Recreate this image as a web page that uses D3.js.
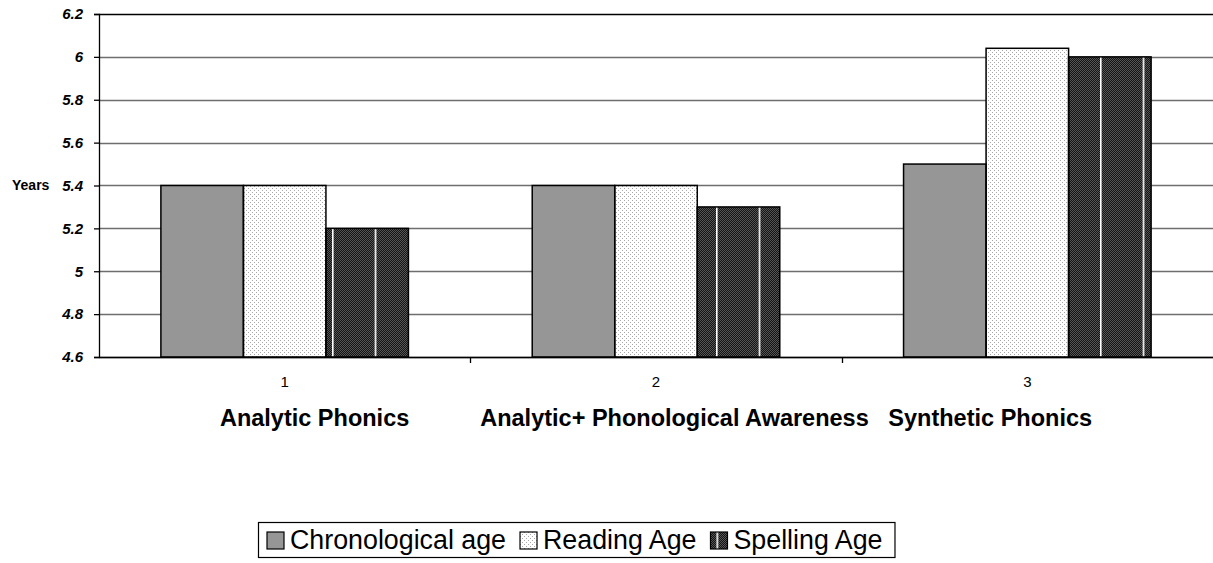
<!DOCTYPE html>
<html>
<head>
<meta charset="utf-8">
<script src="https://cdn.jsdelivr.net/npm/d3@7"></script>
<style>
  body { margin: 0; background: #fff; }
  svg { display: block; font-family: Arial, "Liberation Sans", sans-serif; }
</style>
</head>
<body>
<svg id="chart" width="1213" height="563"></svg>
<script>
// data
const categories = ['1', '2', '3'];
const groupNames = ['Analytic Phonics', 'Analytic+ Phonological Awareness', 'Synthetic Phonics'];
const seriesNames = ['Chronological age', 'Reading Age', 'Spelling Age'];
const chronological = [5.4, 5.4, 5.5];
const reading = [5.4, 5.4, 6.04];
const spelling = [5.2, 5.3, 6.0];
const yDomain = [4.6, 6.2];

const svg = d3.select('#chart');
const width = +svg.attr('width');

const margin = { left: 99, top: 14, right: 0 };
const plotBottom = 357;

// patterns for the fills
const defs = svg.append('defs');

const dots = defs.append('pattern')
  .attr('id', 'dots')
  .attr('patternUnits', 'userSpaceOnUse')
  .attr('width', 4).attr('height', 4);
dots.append('rect').attr('width', 4).attr('height', 4).attr('fill', '#fff');
dots.append('rect').attr('x', 0).attr('y', 0).attr('width', 1).attr('height', 1).attr('fill', '#a8a8a8');
dots.append('rect').attr('x', 2).attr('y', 2).attr('width', 1).attr('height', 1).attr('fill', '#a8a8a8');

const dark = defs.append('pattern')
  .attr('id', 'dark')
  .attr('patternUnits', 'userSpaceOnUse')
  .attr('width', 2).attr('height', 2);
dark.append('rect').attr('width', 2).attr('height', 2).attr('fill', '#141414');
dark.append('rect').attr('x', 0).attr('y', 0).attr('width', 1).attr('height', 1).attr('fill', '#555');
dark.append('rect').attr('x', 1).attr('y', 1).attr('width', 1).attr('height', 1).attr('fill', '#555');

// white streaks in the dark fill
const stripePeriod = 128 / 3;
const makeStripes = (id, offset) => {
  const p = defs.append('pattern')
    .attr('id', id)
    .attr('patternUnits', 'userSpaceOnUse')
    .attr('x', offset)
    .attr('width', stripePeriod).attr('height', 4);
  p.append('rect').attr('x', 0).attr('width', 1.6).attr('height', 4).attr('fill', '#fff');
};
makeStripes('stripes', 332 % stripePeriod);

const fills = ['#969696', 'url(#dots)', 'url(#dark)'];

// scales
const x0 = d3.scaleBand()
  .domain(categories)
  .range([margin.left, width - margin.right]);

const bw = x0.bandwidth();
const x1 = d3.scaleBand()
  .domain(seriesNames)
  .range([bw / 6, bw * 5 / 6]);

const y = d3.scaleLinear()
  .domain(yDomain)
  .range([plotBottom, margin.top]);

const yTicks = d3.range(0, 9).map(i => +(yDomain[0] + i * 0.2).toFixed(1));

// gridlines
svg.append('g')
  .selectAll('line')
  .data(yTicks)
  .join('line')
    .attr('x1', margin.left)
    .attr('x2', width - margin.right)
    .attr('y1', d => Math.round(y(d)) + 0.5)
    .attr('y2', d => Math.round(y(d)) + 0.5)
    .attr('stroke', d => d === yDomain[1] ? '#000' : '#6e6e6e')
    .attr('stroke-width', 1.3);

// bars
const rows = categories.map((c, i) => ({
  cat: c,
  values: [chronological[i], reading[i], spelling[i]]
}));

const barData = rows.flatMap(r => r.values.map((v, j) => ({
  cat: r.cat, series: seriesNames[j], value: v, j
})));

const bars = svg.append('g');

bars.selectAll('.bar')
  .data(barData)
  .join('rect')
    .attr('class', 'bar')
    .attr('x', d => x0(d.cat) + x1(d.series))
    .attr('y', d => y(d.value))
    .attr('width', x1.bandwidth())
    .attr('height', d => plotBottom - y(d.value))
    .attr('fill', d => fills[d.j]);

// white streaks over the spelling bars
bars.selectAll('.streak')
  .data(barData.filter(d => d.j === 2))
  .join('rect')
    .attr('class', 'streak')
    .attr('x', d => x0(d.cat) + x1(d.series))
    .attr('y', d => y(d.value))
    .attr('width', x1.bandwidth())
    .attr('height', d => plotBottom - y(d.value))
    .attr('fill', 'url(#stripes)');

bars.selectAll('.outline')
  .data(barData)
  .join('rect')
    .attr('class', 'outline')
    .attr('x', d => x0(d.cat) + x1(d.series))
    .attr('y', d => y(d.value))
    .attr('width', x1.bandwidth())
    .attr('height', d => plotBottom - y(d.value))
    .attr('fill', 'none')
    .attr('stroke', '#000')
    .attr('stroke-width', 1.5);

// y axis
const yAxis = d3.axisLeft(y)
  .tickValues(yTicks)
  .tickSize(5)
  .tickPadding(11)
  .tickFormat(d3.format('.1~f'));

svg.append('g')
  .attr('transform', `translate(${margin.left},0)`)
  .call(yAxis)
  .call(g => g.select('.domain').attr('stroke', '#000').attr('stroke-width', 1.3))
  .call(g => g.selectAll('.tick line').attr('stroke', '#000').attr('stroke-width', 1.3))
  .call(g => g.selectAll('.tick text')
    .attr('font-family', 'Arial, "Liberation Sans", sans-serif')
    .attr('font-size', 15)
    .attr('font-weight', 'bold')
    .attr('font-style', 'italic')
    .attr('fill', '#000'));

// y axis title
svg.append('text')
  .attr('x', 12)
  .attr('y', y(5.4))
  .attr('dy', '0.35em')
  .attr('font-size', 14)
  .attr('font-weight', 'bold')
  .text('Years');

// x axis
const xAxis = d3.axisBottom(x0)
  .tickSize(0)
  .tickPadding(19);

svg.append('g')
  .attr('transform', `translate(0,${plotBottom})`)
  .call(xAxis)
  .call(g => g.select('.domain').attr('stroke', '#000').attr('stroke-width', 1.3))
  .call(g => g.selectAll('.tick text')
    .attr('font-family', 'Arial, "Liberation Sans", sans-serif')
    .attr('font-size', 15)
    .attr('fill', '#000'));

// separator ticks between categories
svg.append('g')
  .selectAll('line')
  .data(categories.slice(1))
  .join('line')
    .attr('x1', d => Math.round(x0(d)) + 0.5)
    .attr('x2', d => Math.round(x0(d)) + 0.5)
    .attr('y1', plotBottom)
    .attr('y2', plotBottom + 6)
    .attr('stroke', '#000')
    .attr('stroke-width', 1.3);

// x axis title, spaced out like the original
svg.append('text')
  .attr('x', margin.left + (width - margin.left - margin.right) / 2)
  .attr('y', 426)
  .attr('text-anchor', 'middle')
  .attr('font-size', 23.5)
  .attr('font-weight', 'bold')
  .style('white-space', 'pre')
  .text(groupNames[0] + ' '.repeat(11) + groupNames[1] + ' '.repeat(3) + groupNames[2]);

// legend
const legend = svg.append('g');
const legendX = 258, legendY = 522, legendH = 35;
const sw = 17;
let cursor = legendX + 9;
seriesNames.forEach((name, i) => {
  const g = legend.append('g');
  const sy = legendY + (legendH - sw) / 2 + 1;
  g.append('rect')
    .attr('x', cursor)
    .attr('y', sy)
    .attr('width', sw).attr('height', sw)
    .attr('fill', fills[i]);
  if (i === 2) {
    makeStripes('stripes-legend', cursor + 6);
    g.append('rect')
      .attr('x', cursor)
      .attr('y', sy)
      .attr('width', sw).attr('height', sw)
      .attr('fill', 'url(#stripes-legend)');
  }
  g.append('rect')
    .attr('x', cursor)
    .attr('y', sy)
    .attr('width', sw).attr('height', sw)
    .attr('fill', 'none')
    .attr('stroke', '#000')
    .attr('stroke-width', 1.2);
  const t = g.append('text')
    .attr('x', cursor + sw + 6)
    .attr('y', legendY + 27)
    .attr('font-size', 26.8)
    .text(name);
  cursor += sw + 6 + t.node().getComputedTextLength() + (i < 2 ? 14 : 12);
});

legend.insert('rect', ':first-child')
  .attr('x', legendX + 0.5)
  .attr('y', legendY + 0.5)
  .attr('width', cursor - legendX)
  .attr('height', legendH)
  .attr('fill', '#fff')
  .attr('stroke', '#000')
  .attr('stroke-width', 1.2);
</script>
</body>
</html>
